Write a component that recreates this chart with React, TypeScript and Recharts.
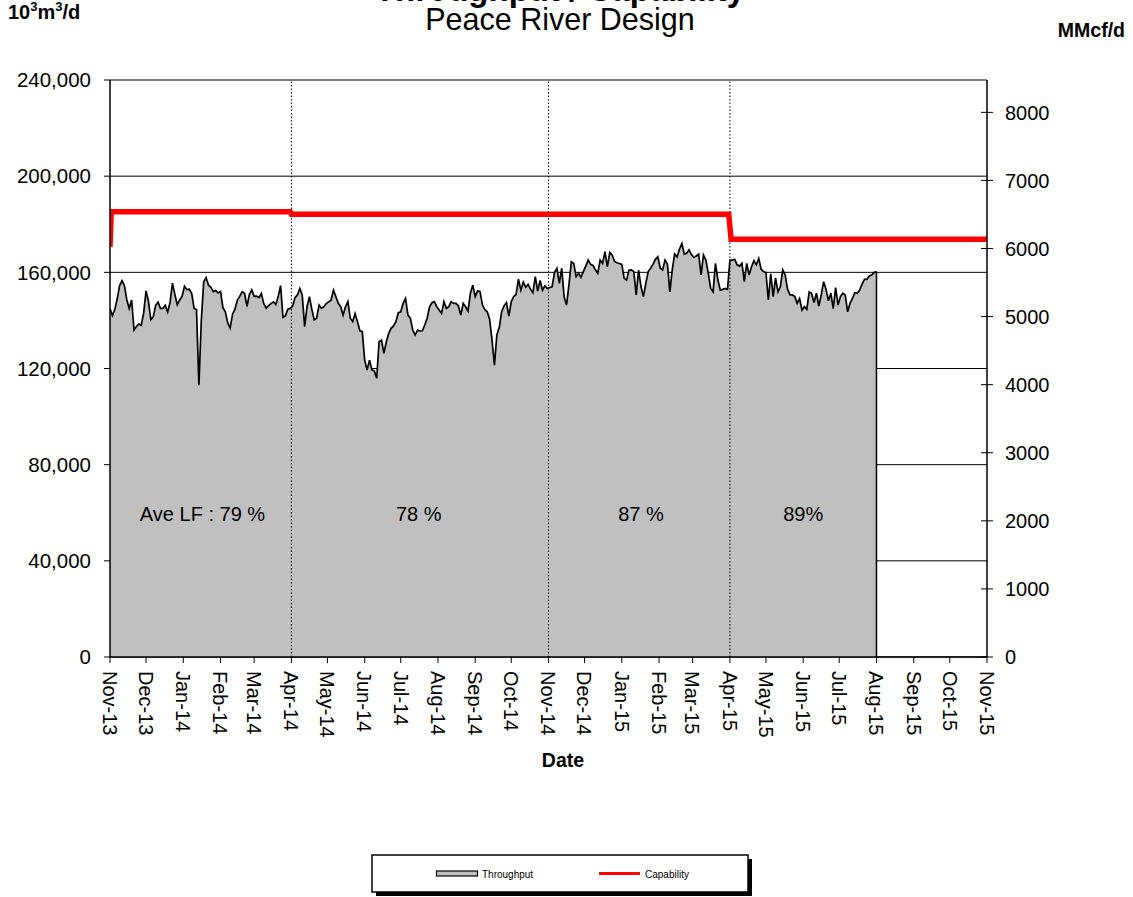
import React from 'react';
import {
  ComposedChart,
  Area,
  Line,
  XAxis,
  YAxis,
  CartesianGrid,
  ReferenceLine,
  ReferenceDot,
} from 'recharts';

const FONT = '"Liberation Sans", Arial, Helvetica, sans-serif';

// ---------------- data ----------------
const tickDates = [
  '2013-11-01', '2013-12-01', '2014-01-01', '2014-02-01', '2014-03-01', '2014-04-01',
  '2014-05-01', '2014-06-01', '2014-07-01', '2014-08-01', '2014-09-01', '2014-10-01',
  '2014-11-01', '2014-12-01', '2015-01-01', '2015-02-01', '2015-03-01', '2015-04-01',
  '2015-05-01', '2015-06-01', '2015-07-01', '2015-08-01', '2015-09-01', '2015-10-01',
  '2015-11-01',
];
const monthNames = ['Jan', 'Feb', 'Mar', 'Apr', 'May', 'Jun', 'Jul', 'Aug', 'Sep', 'Oct', 'Nov', 'Dec'];

const leftTicks = [0, 40000, 80000, 120000, 160000, 200000, 240000];
const rightTicks = [0, 1000, 2000, 3000, 4000, 5000, 6000, 7000, 8000];
const E3M3_PER_MMCF = 28.317; // 10^3 m3 per MMcf

// daily throughput, read every 2nd day, 10^3 m3/d
const throughputStart = '2013-11-01';
const throughputStepDays = 2;
const throughput = [
  145000, 142000, 144500, 149000, 154500, 156500, 154500, 148500, 145000, 148500,
  136000, 137500, 138500, 138000, 143000, 152300, 148000, 140300, 141500, 146300,
  147600, 145000, 145000, 146300, 143500, 147500, 155500, 150800, 146500, 148500,
  150000, 154200, 152800, 153000, 151300, 145000, 144500, 113000, 140000, 156000,
  157800, 154600, 153800, 152000, 152400, 151400, 152000, 145300, 143600, 139000,
  136800, 142600, 144700, 148500, 150000, 151900, 151300, 145800, 150800, 152700,
  150000, 150100, 149500, 151200, 147000, 145100, 146200, 147000, 147700, 146600,
  149900, 154500, 141300, 141900, 144700, 145000, 146000, 149500, 150600,
  153300, 150600, 137400, 145700, 149900, 144600, 140200, 140900, 146400, 145000,
  145700, 147000, 147700, 148400, 152600, 149900, 147100, 145700, 142200, 145700,
  147800, 140900, 139500, 142900, 139500, 135700, 135300, 123500, 119400, 123500,
  119400, 119000, 116000, 131100, 131800, 126300, 131100, 134600, 136700, 137700,
  139500, 143200, 143600, 147100, 149200, 142200, 140900, 136000, 133900, 136000,
  135600, 135700, 138100, 140900, 145700, 147400, 147800, 145700, 144300, 142900,
  147800, 145000, 145700, 147800, 147100, 147100, 146000, 142200, 147100, 145700,
  143900, 151300, 154700, 149900, 152300,
  152000, 146500, 144500, 143600, 140500, 131800, 121400, 134000, 137000, 143600,
  146000, 147400, 141800, 147800, 149900, 150800, 157200, 152600, 155900, 153800,
  155000, 153000, 151500, 158200, 152200, 156600, 152600, 154400, 153300, 153700,
  154000, 159900, 161700, 155400, 161700, 149900, 146400, 154700, 164400, 163700,
  158200, 159600, 157900, 160300, 162600, 165100, 163300, 162900, 161100, 159600,
  165100, 163700, 168600, 162300, 168200, 167200, 164500, 164000, 163700, 163300,
  157500, 156800, 160900, 161000, 160300, 150600, 160900, 154000, 149900, 155400,
  160300, 161700, 163400, 165400, 166500,
  161700, 161000, 165100, 163400, 151900, 161000, 167600, 166400, 169600, 172000,
  167600, 167900, 169300, 167400, 166200, 166800, 167600, 158900, 167200, 165100,
  159600, 153300, 151900, 163700, 156800, 152600, 152900, 153300, 152900, 165100,
  165100, 165400, 163100, 162600, 163800, 156100, 163700, 158900, 162300, 164800,
  163100, 165800, 161300, 160300, 159900, 148500, 159400, 149900, 157700, 151900,
  154000, 161000, 158900, 153000, 150600, 150600, 149900, 147100, 149100, 144300,
  145700, 144600, 151900, 151300, 147400, 151300, 146000, 150600, 156100, 153000,
  148100, 151300, 144900, 153600, 146400, 149900, 151300, 150600, 143600, 147100,
  149200, 151500, 151300, 152600, 155100, 157100, 157100, 158500, 158900, 159900,
  160300,
];

const capabilityDates = ['2013-11-01', '2013-11-02', '2014-03-31', '2014-04-01', '2015-03-31', '2015-04-02', '2015-11-01'];
const capability = [170600, 185200, 185200, 184200, 184200, 173800, 173800];

const periodDividers = ['2014-04-01', '2014-11-01', '2015-04-01'];
const lfLabels = ['Ave LF : 79 %', '78 %', '87 %', '89%'];
const lfLabelDates = ['2014-01-17', '2014-07-16', '2015-01-17', '2015-06-01'];
const lfLabelLevel = 59500;

// ---------------- helpers ----------------
const DAY = 86400000;
const ts = (s: string) => Date.parse(s + 'T00:00:00Z');

const throughputData = throughput.map((v, i) => ({
  t: ts(throughputStart) + i * throughputStepDays * DAY,
  v,
}));
const capabilityData = capability.map((v, i) => ({ t: ts(capabilityDates[i]), v }));
const lastPoint = throughputData[throughputData.length - 1];

const fmtMonth = (t: number) => {
  const d = new Date(t);
  return `${monthNames[d.getUTCMonth()]}-${String(d.getUTCFullYear()).slice(2)}`;
};

const XTick = (props: any) => {
  const { x, y, payload } = props;
  return (
    <g transform={`translate(${x},${y})`}>
      <text
        transform="rotate(90)"
        x={0}
        y={0}
        dy="0.36em"
        textAnchor="start"
        fontSize={20}
        fontFamily={FONT}
        fill="#000"
      >
        {fmtMonth(payload.value)}
      </text>
    </g>
  );
};

const RightTick = (props: any) => {
  const { x, y, payload } = props;
  const ax = x - 18;
  return (
    <g>
      <line x1={ax - 6} x2={ax + 6} y1={y} y2={y} stroke="#000" strokeWidth={1} />
      <text x={x} y={y} dy="0.36em" textAnchor="start" fontSize={20} fontFamily={FONT} fill="#000">
        {payload.value}
      </text>
    </g>
  );
};

export default function App() {
  return (
    <div style={{ position: 'absolute', left: 0, top: 0, width: 1133, height: 897, background: '#fff' }}>
      <ComposedChart width={1133} height={897} margin={{ top: 80, right: 0, bottom: 140, left: 0 }}>
        <CartesianGrid yAxisId="left" vertical={false} stroke="#000" strokeWidth={1} />
        <XAxis
          dataKey="t"
          type="number"
          domain={[ts(tickDates[0]), ts(tickDates[tickDates.length - 1])]}
          ticks={tickDates.map(ts)}
          interval={0}
          allowDataOverflow
          height={100}
          tick={<XTick />}
          tickSize={6}
          tickMargin={8}
          axisLine={{ stroke: '#000', strokeWidth: 1.5 }}
          tickLine={{ stroke: '#000' }}
        />
        <YAxis
          yAxisId="left"
          orientation="left"
          type="number"
          width={110}
          domain={[0, 240000]}
          ticks={leftTicks}
          interval={0}
          allowDataOverflow
          tickFormatter={(v: number) => v.toLocaleString('en-US')}
          tick={{ fill: '#000', fontSize: 20.5, fontFamily: FONT }}
          tickSize={6}
          tickMargin={13}
          axisLine={{ stroke: '#000', strokeWidth: 1.5 }}
          tickLine={{ stroke: '#000' }}
        />
        <YAxis
          yAxisId="right"
          orientation="right"
          type="number"
          width={146}
          domain={[0, 240000 / E3M3_PER_MMCF]}
          ticks={rightTicks}
          interval={0}
          allowDataOverflow
          tick={<RightTick />}
          tickSize={6}
          tickMargin={12}
          tickLine={false}
          axisLine={{ stroke: '#000', strokeWidth: 1.5 }}
        />
        <Area
          yAxisId="left"
          data={throughputData}
          dataKey="v"
          type="linear"
          stroke="#000"
          strokeWidth={1.7}
          fill="#C0C0C0"
          fillOpacity={1}
          dot={false}
          activeDot={false}
          isAnimationActive={false}
        />
        <ReferenceLine
          yAxisId="left"
          segment={[{ x: lastPoint.t, y: 0 }, { x: lastPoint.t, y: lastPoint.v }]}
          stroke="#000"
          strokeWidth={1.5}
        />
        {periodDividers.map((d) => (
          <ReferenceLine key={d} yAxisId="left" x={ts(d)} stroke="#000" strokeWidth={1} strokeDasharray="1.5 2" />
        ))}
        {lfLabels.map((txt, i) => (
          <ReferenceDot
            key={txt}
            yAxisId="left"
            x={ts(lfLabelDates[i])}
            y={lfLabelLevel}
            r={0}
            fill="none"
            stroke="none"
            label={{ value: txt, position: 'center', fill: '#000', fontSize: 20, fontFamily: FONT }}
          />
        ))}
        <Line
          yAxisId="left"
          data={capabilityData}
          dataKey="v"
          type="linear"
          stroke="#FF0000"
          strokeWidth={5.5}
          dot={false}
          activeDot={false}
          isAnimationActive={false}
        />
      </ComposedChart>
      <svg
        width={1133}
        height={897}
        style={{ position: 'absolute', left: 0, top: 0, pointerEvents: 'none' }}
        fontFamily={FONT}
      >
        <text x={560} y={1} textAnchor="middle" fontSize={33} fontWeight="bold" fill="#000">
          Throughput / Capability
        </text>
        <text x={560} y={30} textAnchor="middle" fontSize={30.5} fill="#000">
          Peace River Design
        </text>
        <text x={8} y={19} fontSize={20} fontWeight="bold" fill="#000">
          10<tspan dy={-8} fontSize={13}>3</tspan>
          <tspan dy={8}>m</tspan>
          <tspan dy={-8} fontSize={13}>3</tspan>
          <tspan dy={8}>/d</tspan>
        </text>
        <text x={1125} y={37} textAnchor="end" fontSize={19.5} fontWeight="bold" fill="#000">
          MMcf/d
        </text>
        <text x={563} y={767} textAnchor="middle" fontSize={19.5} fontWeight="bold" fill="#000">
          Date
        </text>
        {/* legend */}
        <rect x={376} y={859} width={376} height={37} fill="#000" />
        <rect x={372} y={855} width={376} height={37} fill="#fff" stroke="#000" strokeWidth={1.5} />
        <rect x={436.5} y={871} width={41} height={5} fill="#C0C0C0" stroke="#000" strokeWidth={1.2} />
        <text x={482} y={877.5} fontSize={10} fill="#000">Throughput</text>
        <line x1={599} x2={640} y1={873.5} y2={873.5} stroke="#FF0000" strokeWidth={3} />
        <text x={645} y={877.5} fontSize={10} fill="#000">Capability</text>
      </svg>
    </div>
  );
}
